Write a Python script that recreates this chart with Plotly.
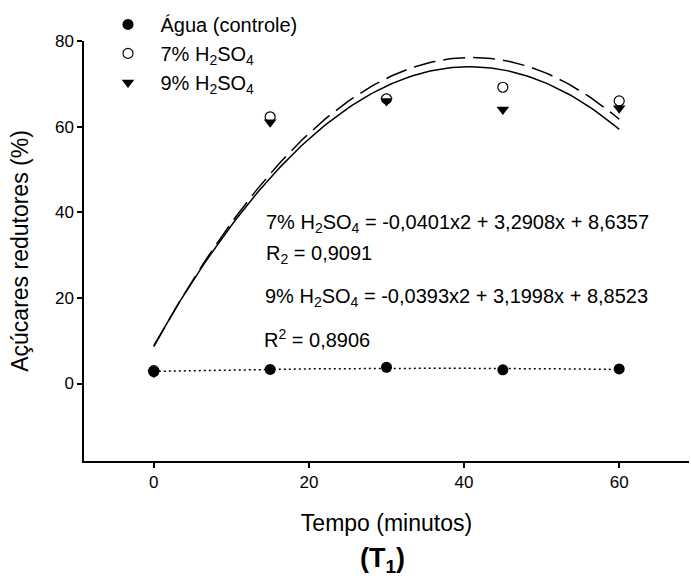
import numpy as np
import plotly.graph_objects as go

# tempo (min)
tempo = [0, 15, 30, 45, 60]
agua = [2.8, 3.3, 3.8, 3.2, 3.4]
h2so4_7 = [3.0, 62.3, 66.5, 69.2, 66.0]
h2so4_9 = [2.5, 61.0, 66.0, 64.0, 64.3]

# coeficientes das regressoes (a, b, c) -> a*x^2 + b*x + c
coef_7 = [-0.0401, 3.2908, 8.6357]
coef_9 = [-0.0393, 3.1998, 8.8523]

FONT = "Liberation Sans, Arial, sans-serif"

xs = np.linspace(0, 60, 121)
fit7 = np.polyval(coef_7, xs)
fit9 = np.polyval(coef_9, xs)
fit_agua = np.polyval(np.polyfit(tempo, agua, 2), xs)

fig = go.Figure()

# regression curves
fig.add_trace(go.Scatter(x=xs, y=fit7, mode='lines', line=dict(color='black', width=1.5, dash='22px,8px'),
                         showlegend=False, hoverinfo='skip'))
fig.add_trace(go.Scatter(x=xs, y=fit9, mode='lines', line=dict(color='black', width=1.5),
                         showlegend=False, hoverinfo='skip'))
fig.add_trace(go.Scatter(x=xs, y=fit_agua, mode='lines', line=dict(color='black', width=1.5, dash='2px,3px'),
                         showlegend=False, hoverinfo='skip'))

# data points
fig.add_trace(go.Scatter(x=tempo, y=agua, mode='markers', name='Água (controle)',
                         marker=dict(symbol='circle', size=11, color='black')))
fig.add_trace(go.Scatter(x=tempo, y=h2so4_7, mode='markers', name='7% H<sub>2</sub>SO<sub>4</sub>',
                         marker=dict(symbol='circle-open', size=10, color='black', line=dict(width=1.2))))
fig.add_trace(go.Scatter(x=tempo, y=h2so4_9, mode='markers', name='9% H<sub>2</sub>SO<sub>4</sub>',
                         marker=dict(symbol='triangle-down', size=11, color='black')))

eq_font = dict(family=FONT, size=20, color='black')
fig.add_annotation(x=14.2, y=37.4, xref='x', yref='y', xanchor='left', yanchor='middle', showarrow=False,
                   text='7% H<sub>2</sub>SO<sub>4</sub> = -0,0401x2 + 3,2908x + 8,6357', font=eq_font)
fig.add_annotation(x=14.2, y=30.2, xref='x', yref='y', xanchor='left', yanchor='middle', showarrow=False,
                   text='R<sub>2</sub> = 0,9091', font=eq_font)
fig.add_annotation(x=14.1, y=20.2, xref='x', yref='y', xanchor='left', yanchor='middle', showarrow=False,
                   text='9% H<sub>2</sub>SO<sub>4</sub> = -0,0393x2 + 3,1998x + 8,8523', font=eq_font)
fig.add_annotation(x=14.0, y=10.6, xref='x', yref='y', xanchor='left', yanchor='middle', showarrow=False,
                   text='R<sup>2</sup> = 0,8906', font=eq_font)

fig.add_annotation(x=0.494, y=-0.236, xref='paper', yref='paper', xanchor='center', yanchor='middle',
                   showarrow=False, text='<b>(T<sub>1</sub>)</b>',
                   font=dict(family=FONT, size=27, color='black'))

axis_common = dict(showline=True, linecolor='black', linewidth=1.5, ticks='outside', ticklen=5,
                   tickwidth=1.5, tickcolor='black', showgrid=False, zeroline=False, automargin=False,
                   tickfont=dict(family=FONT, size=17, color='black'))

fig.update_layout(
    width=691, height=583,
    margin=dict(l=84, r=2, t=41, b=122, autoexpand=False),
    plot_bgcolor='white', paper_bgcolor='white',
    xaxis=dict(range=[-9, 69], tickvals=[0, 20, 40, 60],
               title=dict(text='Tempo (minutos)', standoff=24, font=dict(family=FONT, size=23, color='black')),
               **axis_common),
    yaxis=dict(range=[-18.1, 80], tickvals=[0, 20, 40, 60, 80],
               title=dict(text='Açúcares redutores (%)', standoff=20, font=dict(family=FONT, size=23, color='black')),
               **axis_common),
    legend=dict(x=0.019, y=1.086, xanchor='left', yanchor='top', bgcolor='rgba(0,0,0,0)', itemwidth=55,
                font=dict(family=FONT, size=20, color='black')),
)

# page body has a default 8px margin; drop it so the figure sits at the window corner
fig.write_html("out.html", config={'displayModeBar': False},
               post_script="document.body.style.margin='0';")
